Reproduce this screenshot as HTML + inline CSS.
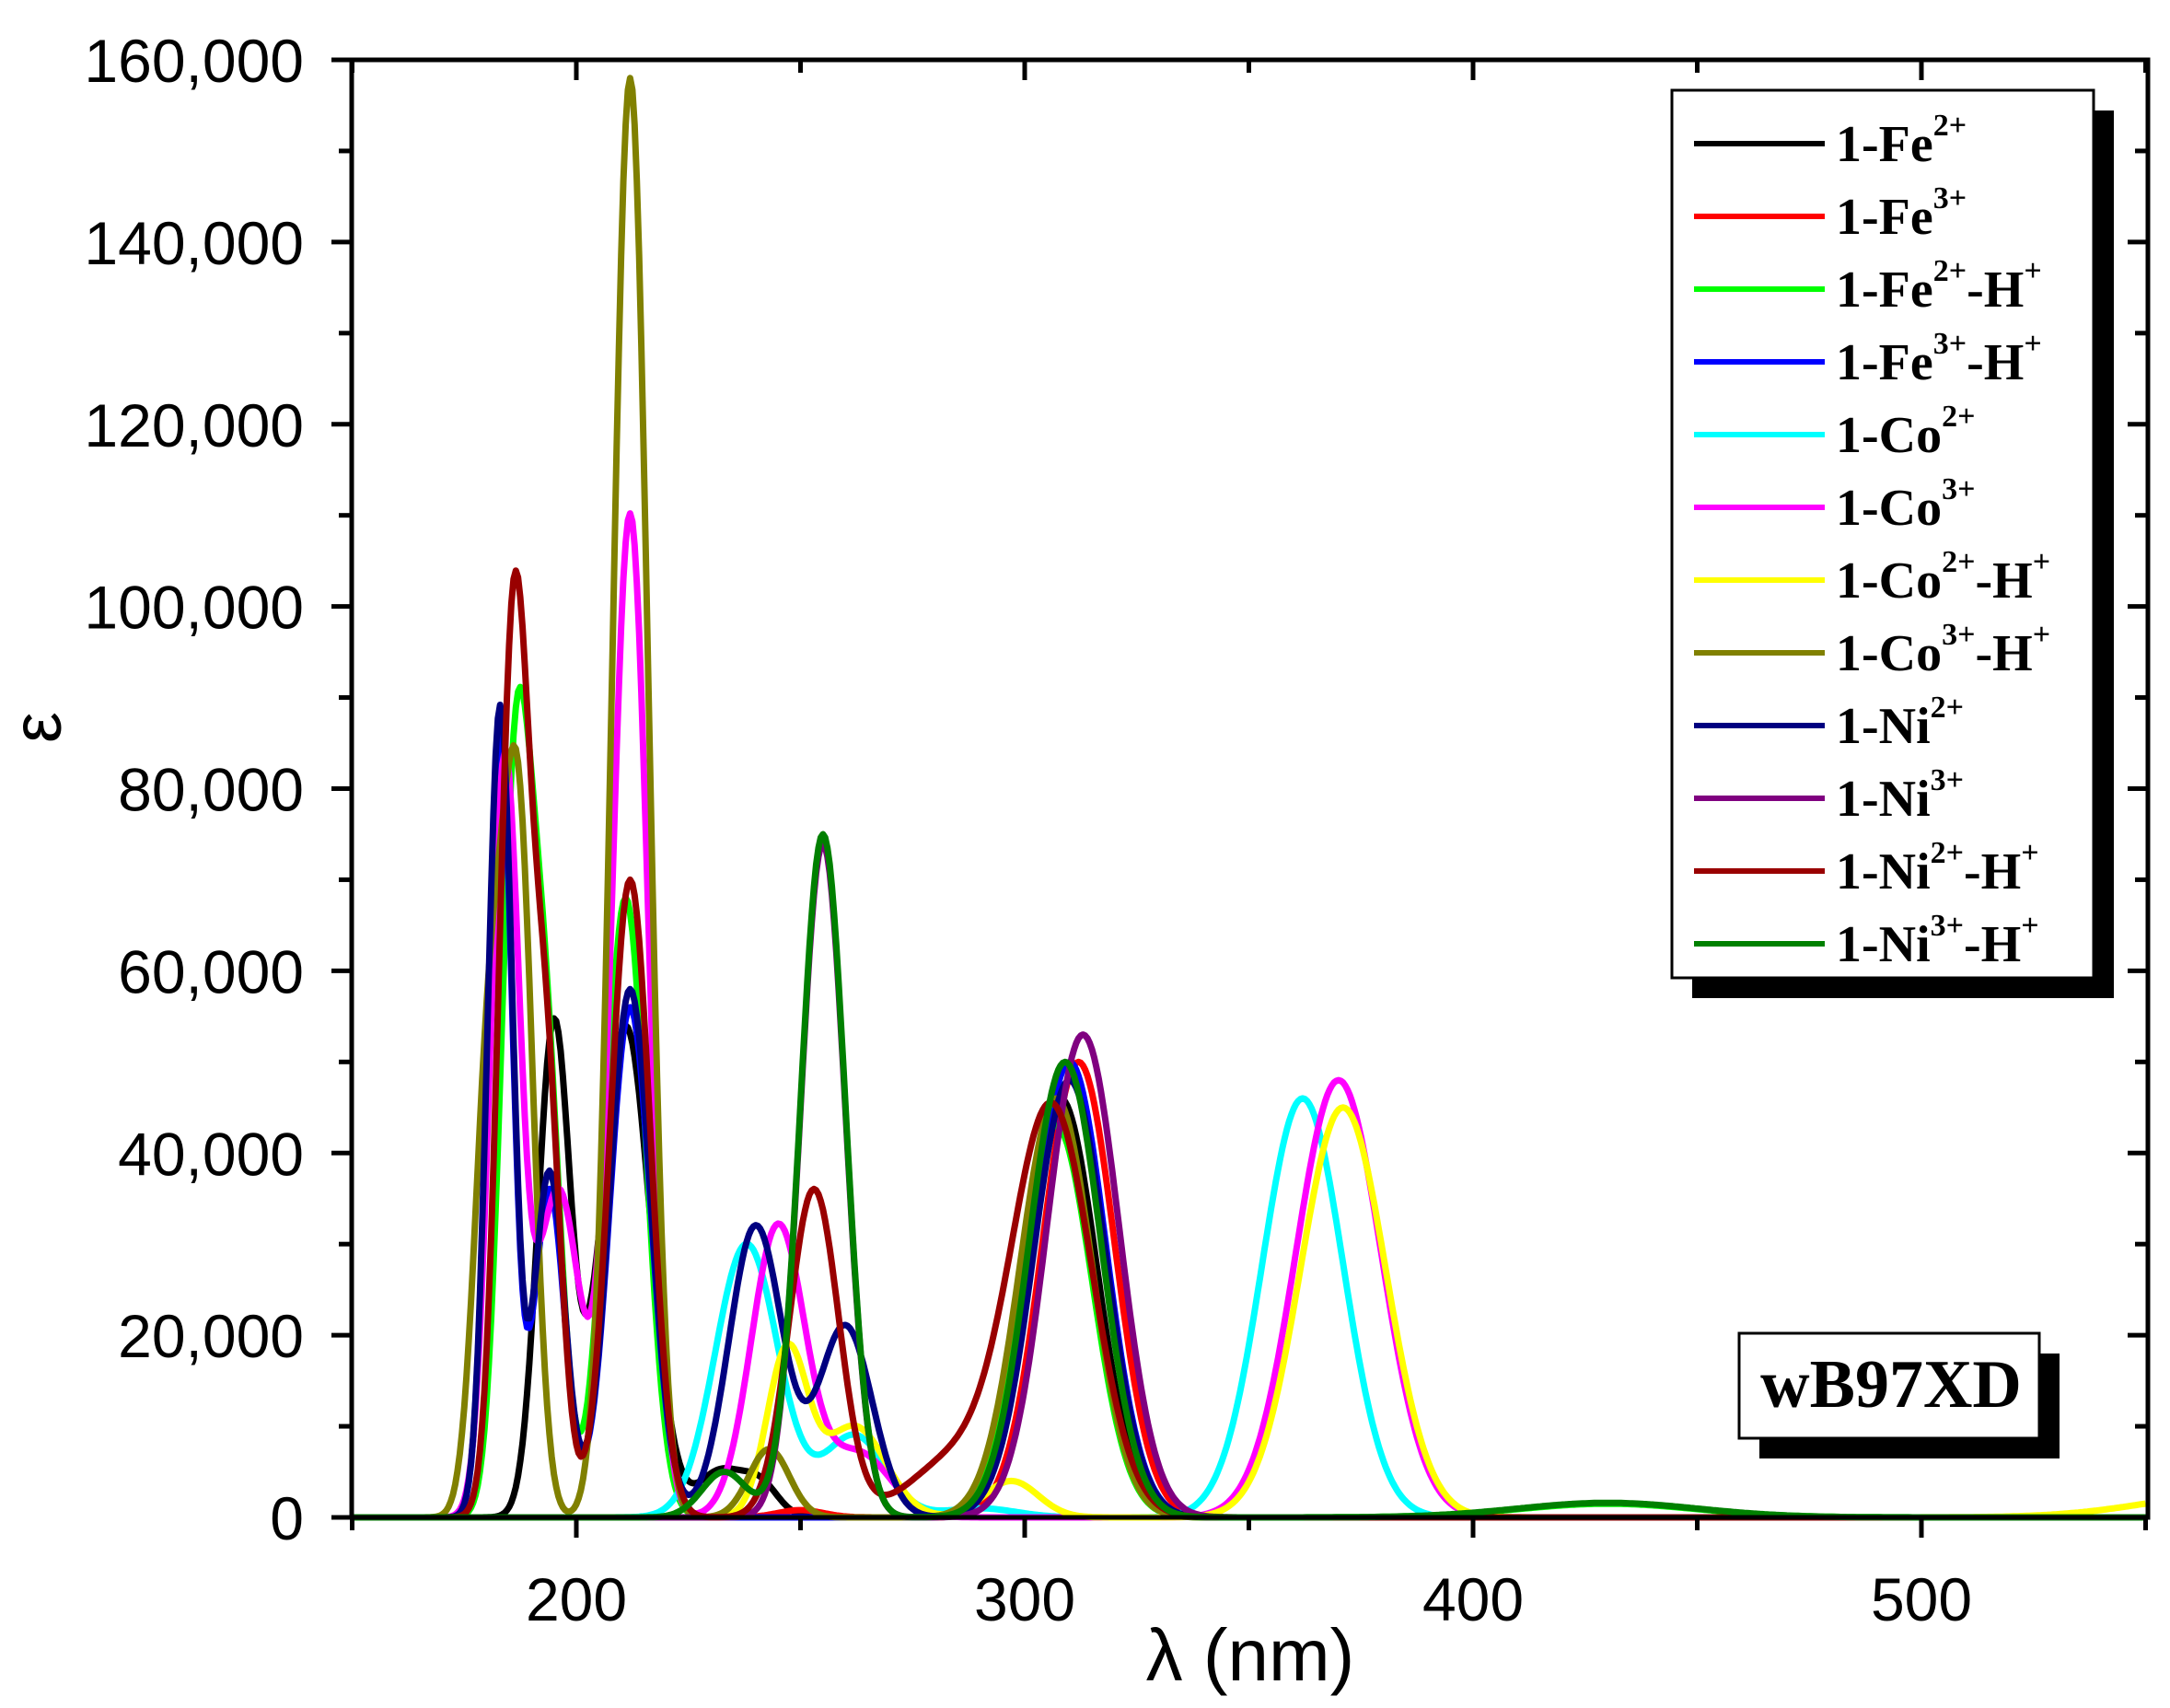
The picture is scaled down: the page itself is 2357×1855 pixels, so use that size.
<!DOCTYPE html>
<html><head><meta charset="utf-8">
<style>
html,body{margin:0;padding:0;background:#fff;}
svg{display:block;}
.tl{font-family:"Liberation Sans",sans-serif;font-size:66px;fill:#000;}
.lg{font-family:"Liberation Serif",serif;font-weight:bold;font-size:56px;fill:#000;}
.sp{font-size:34px;}
</style></head>
<body>
<svg id="s" width="2357" height="1855" xmlns="http://www.w3.org/2000/svg">
<rect width="2357" height="1855" fill="#fff"/>
<g id="curves"></g>
<rect x="382" y="65" width="1951" height="1583" fill="none" stroke="#000" stroke-width="5"/>
<g id="ticks" stroke="#000" stroke-width="5"></g>
<g id="labels"></g>
<text class="tl" x="1358" y="1825" text-anchor="middle" style="font-size:80px">λ (nm)</text>
<text class="tl" x="66" y="790" text-anchor="middle" transform="rotate(-90 66 790)" style="font-size:76px">ε</text>
<!-- legend -->
<rect x="1838" y="120" width="458" height="964" fill="#000"/>
<rect x="1816" y="98" width="458" height="964" fill="#fff" stroke="#000" stroke-width="3"/>
<g id="legend"></g>
<rect x="1911" y="1470" width="326" height="114" fill="#000"/>
<rect x="1889" y="1448" width="326" height="114" fill="#fff" stroke="#000" stroke-width="3"/>
<text class="lg" x="2054" y="1528" text-anchor="middle" style="font-size:74px">wB97XD</text>
</svg>
<script>
const X=w=>626+(w-200)*4.87, Y=v=>1648-v*1583/160000;
const S=[
["#000000",[[195,54000,3.6],[211,54000,5.5],[232,5000,5],[241,3500,4],[308,46000,8]],"Fe","2+",""],
["#ff0000",[[250,800,5],[312,50000,8]],"Fe","3+",""],
["#00ff00",[[186.5,80000,3.4],[193,50000,3.5],[211,68000,4.5],[307,43000,8],[430,1500,20]],"Fe","2+","+"],
["#0000ff",[[183,86000,2.8],[194,36000,3.4],[212,56000,4.6],[310,50000,8]],"Fe","3+","+"],
["#00ffff",[[238,30000,7],[262,9000,7],[290,1000,8],[362,46000,9]],"Co","2+",""],
["#ff00ff",[[184,82000,3.3],[196,36000,5],[212,110000,4],[245,32000,6],[263,7000,7],[370,48000,9.5]],"Co","3+",""],
["#ffff00",[[247,18000,4.5],[262,10000,7],[297,4000,6],[371,45000,9.5],[570,2500,20]],"Co","2+","+"],
["#808000",[[180.5,48000,3.3],[187,76000,3.4],[212,158000,3.9],[243,7500,4.5],[307,46000,8]],"Co","3+","+"],
["#000080",[[183,89000,2.8],[194,38000,3.4],[212,58000,4.6],[240,32000,6],[260,21000,6],[310,48000,8]],"Ni","2+",""],
["#800080",[[255,74000,5],[313,53000,8]],"Ni","3+",""],
["#990000",[[186,97000,3.3],[193,50000,3.4],[212,70000,4.5],[253,36000,5.5],[284,6000,10],[306,45000,9]],"Ni","2+","+"],
["#008000",[[233,5000,5],[255,75000,5],[309,50000,8],[430,1600,20]],"Ni","3+","+"]
];
const ns="http://www.w3.org/2000/svg";
function el(t,a,p,txt){const e=document.createElementNS(ns,t);for(const k in a)e.setAttribute(k,a[k]);if(txt)e.textContent=txt;p.appendChild(e);return e;}
const cg=document.getElementById("curves");
S.forEach(s=>{let d="";for(let w=150;w<=550;w+=0.5){let v=0;s[1].forEach(p=>{v+=p[1]*Math.exp(-((w-p[0])**2)/(2*p[2]*p[2]));});d+=(d?"L":"M")+X(w).toFixed(1)+","+Y(v).toFixed(1);}
el("path",{d:d,fill:"none",stroke:s[0],"stroke-width":7,"stroke-linejoin":"round"},cg);});
const tg=document.getElementById("ticks"),lb=document.getElementById("labels");
for(let w=150;w<=550;w+=50){const x=X(w),maj=w%100==0;el("line",{x1:x,y1:1648,x2:x,y2:1648+(maj?22:14)},tg);el("line",{x1:x,y1:65,x2:x,y2:65+(maj?22:14)},tg);
if(maj)el("text",{class:"tl",x:x,y:1760,"text-anchor":"middle"},lb,String(w));}
for(let v=0;v<=160000;v+=10000){const y=Y(v),maj=v%20000==0;el("line",{x1:382,y1:y,x2:382-(maj?22:14),y2:y},tg);el("line",{x1:2333,y1:y,x2:2333-(maj?22:14),y2:y},tg);
if(maj)el("text",{class:"tl",x:330,y:y+24,"text-anchor":"end"},lb,v.toLocaleString("en-US"));}
const lg=document.getElementById("legend");
S.forEach((s,i)=>{const y=156+i*79;el("line",{x1:1840,y1:y,x2:1982,y2:y,stroke:s[0],"stroke-width":6},lg);
const t=el("text",{class:"lg",x:1994,y:y+19},lg,"1-"+s[2]);el("tspan",{class:"sp",dy:-28},t,s[3]);
if(s[4]){el("tspan",{dy:28},t,"-H");el("tspan",{class:"sp",dy:-28},t,"+");}});
</script>
</body></html>
